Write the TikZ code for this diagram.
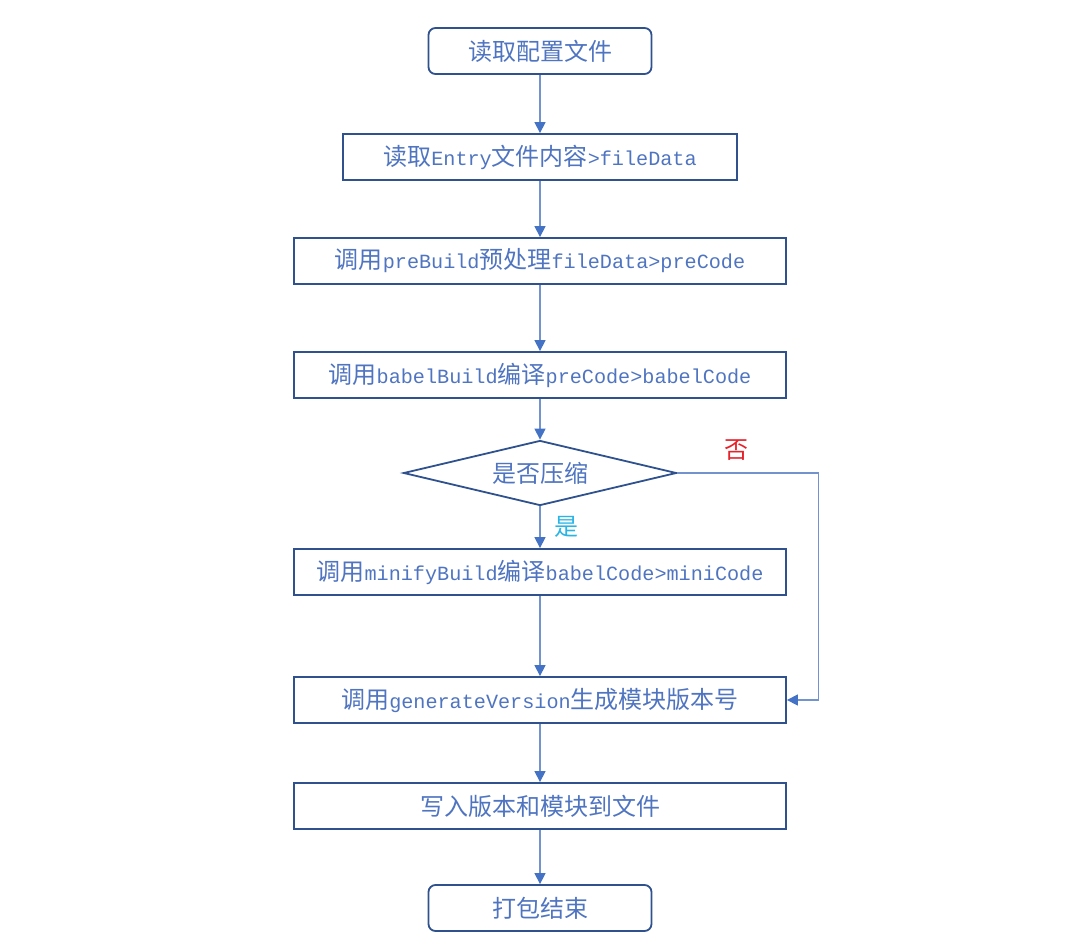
\documentclass[tikz,border=0pt]{standalone}
\usepackage{fontspec}
\setmainfont{Liberation Mono}[Scale=0.84]
\newfontfamily\cjk{Noto Sans CJK SC}
\usetikzlibrary{shapes.geometric,arrows.meta}
\definecolor{txt}{HTML}{4F74C0}
\definecolor{edge}{HTML}{2F528F}
\definecolor{line}{HTML}{7393CF}
\definecolor{head}{HTML}{4472C4}
\definecolor{nored}{HTML}{E8202A}
\definecolor{yescyan}{HTML}{2AB4E6}
\newcommand\zh[1]{{\cjk #1}}
\begin{document}
\begin{tikzpicture}[x=1pt,y=-1pt,
  every node/.style={font=\fontsize{24}{28}\selectfont, text=txt, inner sep=0pt},
  rbox/.style={draw=edge, line width=1.8pt, rounded corners=7pt, minimum width=223pt, minimum height=46pt},
  sbox/.style={draw=edge, line width=1.8pt, minimum height=46pt},
  dec/.style={draw=edge, line width=1.8pt, shape=diamond, aspect=4.2, minimum width=273pt, minimum height=65pt},
  arr/.style={draw=line, line width=1.3pt, -{Triangle[length=11pt,width=11pt,color=head]}}
]
\useasboundingbox (0,0) rectangle (1080,951);
\node[rbox] (n1) at (540,51) {\zh{读取配置文件}};
\node[sbox, minimum width=394pt] (n2) at (540,157) {\zh{读取}Entry\zh{文件内容}>fileData};
\node[sbox, minimum width=492pt] (n3) at (540,261) {\zh{调用}preBuild\zh{预处理}fileData>preCode};
\node[sbox, minimum width=492pt] (n4) at (540,375) {\zh{调用}babelBuild\zh{编译}preCode>babelCode};
\node[dec] (d) at (540,473) {\zh{是否压缩}};
\node[sbox, minimum width=492pt] (n5) at (540,572) {\zh{调用}minifyBuild\zh{编译}babelCode>miniCode};
\node[sbox, minimum width=492pt] (n6) at (540,700) {\zh{调用}generateVersion\zh{生成模块版本号}};
\node[sbox, minimum width=492pt] (n7) at (540,806) {\zh{写入版本和模块到文件}};
\node[rbox] (n8) at (540,908) {\zh{打包结束}};
\node[text=nored] (no) at (736,450) {\zh{否}};
\node[text=yescyan] (yes) at (566,527) {\zh{是}};
\draw[arr] (n1) -- (n2);
\draw[arr] (n2) -- (n3);
\draw[arr] (n3) -- (n4);
\draw[arr] (n4) -- (d);
\draw[arr] (d) -- (n5);
\draw[arr] (n5) -- (n6);
\draw[arr] (n6) -- (n7);
\draw[arr] (n7) -- (n8);
\draw[arr] (d.east) -- ++(141,0) |- (n6.east);
\end{tikzpicture}
\end{document}
